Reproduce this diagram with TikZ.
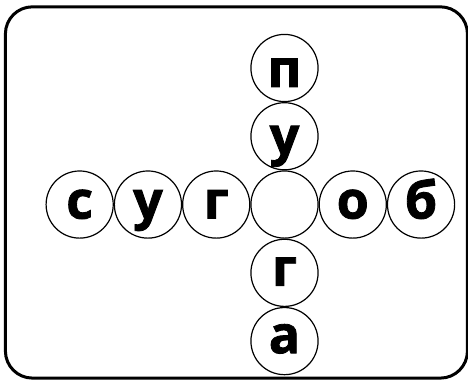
\documentclass[tikz,border=0pt]{standalone}
\usepackage{fontspec}
\setmainfont{Open Sans}[BoldFeatures={FakeBold=1.6}]
\begin{document}
\begin{tikzpicture}
        \tikzset{
          letter/.style={shape=circle,draw=black,line width=1.2pt,minimum size=2.36cm,inner sep=0pt,
            font=\fontsize{52}{52}\selectfont\bfseries,text height=28pt,text depth=0pt}
        }
        \useasboundingbox (0,0) rectangle (16.45,13.39);
        \draw[line width=3pt,rounded corners=0.95cm] (0.19,0.1) rectangle (16.43,13.15);

        % middle row
        \node[letter] (l1) at (2.8,6.2) {с};
        \node[letter] (l2) at (5.2,6.2) {у};
        \node[letter] (l3) at (7.6,6.2) {г};
        \node[letter] (c) at (10,6.2) {};
        \node[letter] (r1) at (12.4,6.2) {о};
        \node[letter] (r2) at (14.8,6.2) {б};
        % middle column
        \node[letter,text height=38pt] (t1) at (10,11) {п};
        \node[letter,text height=36pt] (t2) at (10,8.6) {у};
        \node[letter,text height=26pt] (b1) at (10,3.8) {г};
        \node[letter,text height=24pt] (b2) at (10,1.4) {а};
        \end{tikzpicture}
\end{document}
